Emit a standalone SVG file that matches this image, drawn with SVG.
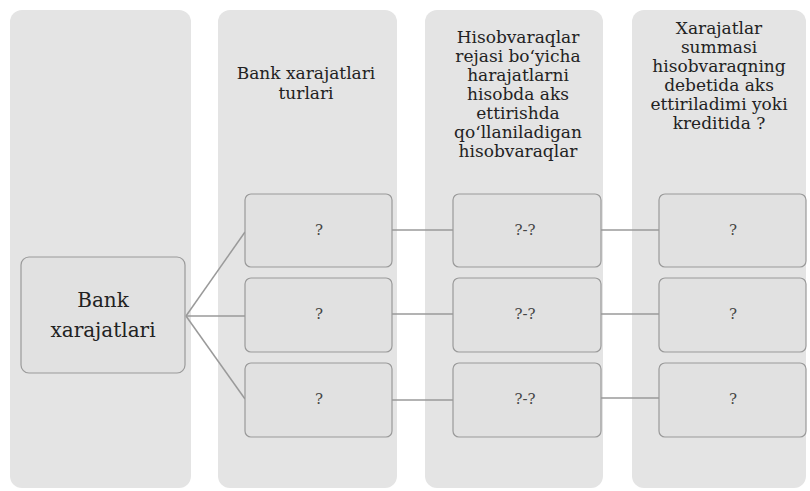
<svg xmlns="http://www.w3.org/2000/svg" width="810" height="491" viewBox="0 0 810 491">
<style>
.col{fill:#e4e4e4;stroke:none}
.box{fill:#e1e1e1;stroke:#9a9a9a;stroke-width:1.2}
text{font-family:"DejaVu Serif","Liberation Serif",serif;text-anchor:middle}
.hd{font-size:17px;fill:#222}
.q{font-size:15px;fill:#444}
.big{font-size:20px;fill:#222}
.cn{stroke:#9a9a9a;stroke-width:1.5;fill:none}
</style>
<rect width="810" height="491" fill="#ffffff"/>
<g id="col1"><rect class="col" x="10" y="10" width="181" height="478" rx="12"/></g>
<g id="col2"><rect class="col" x="218" y="10" width="179" height="478" rx="12"/>
<text class="hd" x="306" y="79">Bank xarajatlari</text>
<text class="hd" x="306" y="99">turlari</text></g>
<g id="col3"><rect class="col" x="425" y="10" width="178" height="478" rx="12"/>
<text class="hd" x="518" y="43">Hisobvaraqlar</text>
<text class="hd" x="518" y="62">rejasi bo‘yicha</text>
<text class="hd" x="518" y="81">harajatlarni</text>
<text class="hd" x="518" y="100">hisobda aks</text>
<text class="hd" x="518" y="119">ettirishda</text>
<text class="hd" x="518" y="138">qo‘llaniladigan</text>
<text class="hd" x="518" y="157">hisobvaraqlar</text></g>
<g id="col4"><rect class="col" x="632" y="10" width="174" height="478" rx="12"/>
<text class="hd" x="719" y="34">Xarajatlar</text>
<text class="hd" x="719" y="53">summasi</text>
<text class="hd" x="719" y="72">hisobvaraqning</text>
<text class="hd" x="719" y="91">debetida aks</text>
<text class="hd" x="719" y="110">ettiriladimi yoki</text>
<text class="hd" x="719" y="129">kreditida ?</text></g>
<g id="connectors">
<line class="cn" x1="186" y1="316" x2="245" y2="232"/>
<line class="cn" x1="186" y1="316" x2="245" y2="316"/>
<line class="cn" x1="186" y1="316" x2="245" y2="399"/>
<line class="cn" x1="392" y1="230" x2="453" y2="230"/>
<line class="cn" x1="392" y1="314" x2="453" y2="314"/>
<line class="cn" x1="392" y1="400" x2="453" y2="400"/>
<line class="cn" x1="601" y1="230" x2="659" y2="230"/>
<line class="cn" x1="601" y1="314" x2="659" y2="314"/>
<line class="cn" x1="601" y1="398" x2="659" y2="398"/>
</g>
<g id="bank"><rect class="box" x="21" y="257" width="164" height="116" rx="8"/>
<text class="big" x="103" y="307">Bank</text>
<text class="big" x="103" y="337">xarajatlari</text></g>
<g id="b21"><rect class="box" x="245" y="194" width="147" height="73" rx="6"/><text class="q" x="319" y="235">?</text></g>
<g id="b22"><rect class="box" x="245" y="278" width="147" height="74" rx="6"/><text class="q" x="319" y="319">?</text></g>
<g id="b23"><rect class="box" x="245" y="363" width="147" height="74" rx="6"/><text class="q" x="319" y="404">?</text></g>
<g id="b31"><rect class="box" x="453" y="194" width="148" height="73" rx="6"/><text class="q" x="525" y="235">?-?</text></g>
<g id="b32"><rect class="box" x="453" y="278" width="148" height="74" rx="6"/><text class="q" x="525" y="319">?-?</text></g>
<g id="b33"><rect class="box" x="453" y="363" width="148" height="74" rx="6"/><text class="q" x="525" y="404">?-?</text></g>
<g id="b41"><rect class="box" x="659" y="194" width="147" height="73" rx="6"/><text class="q" x="733" y="235">?</text></g>
<g id="b42"><rect class="box" x="659" y="278" width="147" height="74" rx="6"/><text class="q" x="733" y="319">?</text></g>
<g id="b43"><rect class="box" x="659" y="363" width="147" height="74" rx="6"/><text class="q" x="733" y="404">?</text></g>
</svg>
